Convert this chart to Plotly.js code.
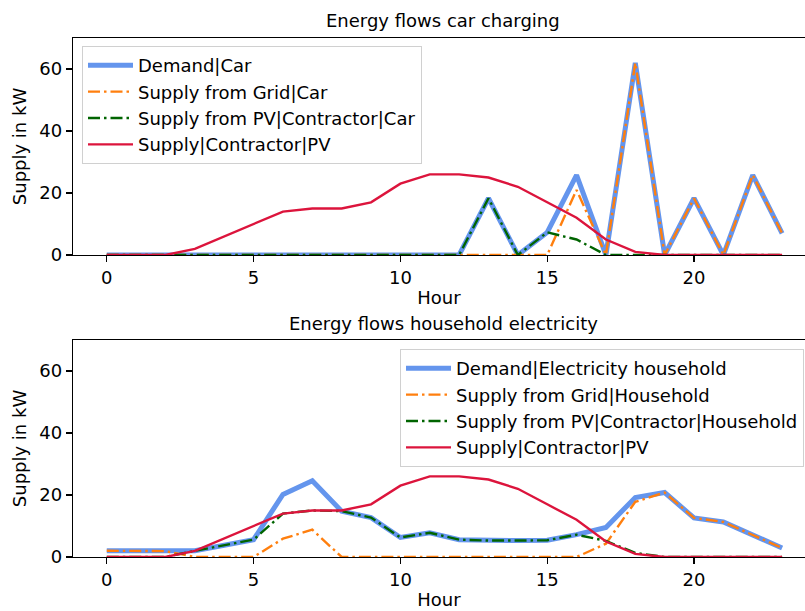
<!DOCTYPE html>
<html>
<head>
<meta charset="utf-8">
<script src="https://cdn.plot.ly/plotly-3.0.1.min.js"></script>
<style>html,body{margin:0;padding:0;background:#fff;}#chart{width:805px;height:611px;}</style>
</head>
<body>
<div id="chart"></div>
<script>
// ---- data ----
const hours = [0,1,2,3,4,5,6,7,8,9,10,11,12,13,14,15,16,17,18,19,20,21,22,23];

const carDemand = [0,0,0,0,0,0,0,0,0,0,0,0,0,18.3,0,7.3,25.8,0,62,0,18.3,0,25.8,7];
const carGrid   = [0,0,0,0,0,0,0,0,0,0,0,0,0,0,0,0,21,0,62,0,18.3,0,25.8,7];
const carPV     = [0,0,0,0,0,0,0,0,0,0,0,0,0,18.3,0,7.3,5,0,0,0,0,0,0,0];

const pvSupply  = [0,0,0,2,6,10,14,15,15,17,23,26,26,25,22,17,12,5,1,0,0,0,0,0];

const houseDemand = [2,2,2,2,3.8,5.6,20.2,24.6,14.8,12.7,6.3,7.8,5.6,5.3,5.3,5.4,7.2,9.5,19.2,20.8,12.6,11.3,7,2.9];
const houseGrid   = [2,2,1.9,0,0,0,5.9,8.8,0,0,0,0,0,0,0,0,0,4.3,17.8,20.8,12.6,11.3,7,2.9];
const housePV     = [0,0,0,2,3.8,5.6,14,15,14.8,12.7,6.3,7.8,5.6,5.3,5.3,5.4,7.2,5.2,1.3,0,0,0,0,0];

const xTicks = [0,5,10,15,20];
const yTicks = [0,20,40,60];

const topTitle = "Energy flows car charging";
const bottomTitle = "Energy flows household electricity";
const carNames = ["Demand|Car","Supply from Grid|Car","Supply from PV|Contractor|Car","Supply|Contractor|PV"];
const houseNames = ["Demand|Electricity household","Supply from Grid|Household","Supply from PV|Contractor|Household","Supply|Contractor|PV"];

// ---- styles ----
const FONT = "DejaVu Sans, sans-serif";
const FS = 18;
const dashDot = "12px,4px,2.5px,4px";
const styles = [
  {color:"#6495ED", width:5, dash:"solid"},
  {color:"#FF7F0E", width:2.4, dash:dashDot},
  {color:"#006400", width:2.4, dash:dashDot},
  {color:"#DC143C", width:2.4, dash:"solid"}
];

function mk(y, name, i, xa, ya, leg){
  return {x:hours, y:y, name:name, type:"scatter", mode:"lines",
    line:styles[i], xaxis:xa, yaxis:ya, legend:leg, hoverinfo:"x+y+name"};
}

const data = [
  mk(carDemand, carNames[0], 0, "x", "y", "legend"),
  mk(carGrid,   carNames[1], 1, "x", "y", "legend"),
  mk(carPV,     carNames[2], 2, "x", "y", "legend"),
  mk(pvSupply,  carNames[3], 3, "x", "y", "legend"),
  mk(houseDemand, houseNames[0], 0, "x2", "y2", "legend2"),
  mk(houseGrid,   houseNames[1], 1, "x2", "y2", "legend2"),
  mk(housePV,     houseNames[2], 2, "x2", "y2", "legend2"),
  mk(pvSupply,    houseNames[3], 3, "x2", "y2", "legend2")
];

const xBase = {
  range:[-1.15, 23.78], tickmode:"array", tickvals:xTicks, ticks:"outside", ticklen:6, tickwidth:1.3,
  tickcolor:"#000", showline:true, linecolor:"#000", linewidth:1.3, mirror:true, showgrid:false, zeroline:false,
  tickfont:{family:FONT,size:FS,color:"#000"},
  title:{text:"Hour", font:{family:FONT,size:FS,color:"#000"}, standoff:4}
};
const yBase = {
  range:[0,70], tickmode:"array", tickvals:yTicks, ticks:"outside", ticklen:6, tickwidth:1.3,
  tickcolor:"#000", showline:true, linecolor:"#000", linewidth:1.3, mirror:false, showgrid:false, zeroline:false,
  tickfont:{family:FONT,size:FS,color:"#000"},
  title:{text:"Supply in kW", font:{family:FONT,size:FS,color:"#000"}, standoff:8}
};

const H = 519, W = 732;
const legendStyle = {bgcolor:"rgba(255,255,255,0.8)", bordercolor:"#d0d0d0", borderwidth:1,
  itemwidth:45, font:{family:FONT,size:FS,color:"#000"}};

const layout = {
  width:805, height:611, margin:{l:73, r:0, t:38, b:54},
  paper_bgcolor:"#fff", plot_bgcolor:"#fff", showlegend:true,
  font:{family:FONT,size:FS,color:"#000"},
  xaxis: Object.assign({}, xBase, {domain:[0,1], anchor:"y"}),
  yaxis: Object.assign({}, yBase, {domain:[(557-255)/H, 1], anchor:"x"}),
  xaxis2: Object.assign({}, xBase, {domain:[0,1], anchor:"y2"}),
  yaxis2: Object.assign({}, yBase, {domain:[0, (557-340)/H], anchor:"x2"}),
  legend: Object.assign({}, legendStyle, {x:(82-73)/W, y:(557-46)/H, xanchor:"left", yanchor:"top"}),
  legend2: Object.assign({}, legendStyle, {x:(804-73)/W, y:(557-349)/H, xanchor:"right", yanchor:"top"}),
  annotations:[
    {text:topTitle, xref:"paper", yref:"paper", x:(443-73)/W, y:(557-21)/H, showarrow:false,
     xanchor:"center", yanchor:"middle", font:{family:FONT,size:FS,color:"#000"}},
    {text:bottomTitle, xref:"paper", yref:"paper", x:(443-73)/W, y:(557-323)/H, showarrow:false,
     xanchor:"center", yanchor:"middle", font:{family:FONT,size:FS,color:"#000"}}
  ]
};

Plotly.newPlot("chart", data, layout, {displayModeBar:false, staticPlot:true});
</script>
</body>
</html>
